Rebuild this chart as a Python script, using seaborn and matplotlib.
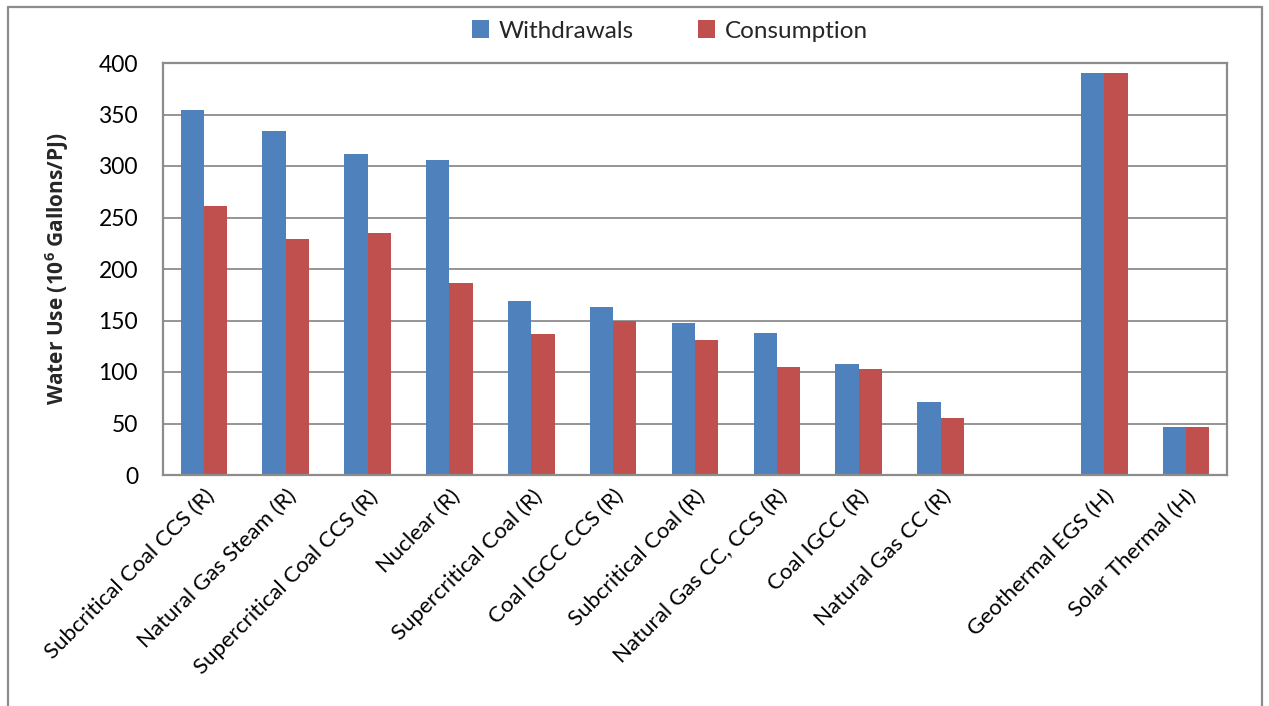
import matplotlib
matplotlib.use("Agg")
import matplotlib.pyplot as plt
from matplotlib.lines import Line2D
import numpy as np
import pandas as pd
import seaborn as sns

# Technology categories (one blank slot separates the two groups)
categories = [
    "Subcritical Coal CCS (R)",
    "Natural Gas Steam (R)",
    "Supercritical Coal CCS (R)",
    "Nuclear (R)",
    "Supercritical Coal (R)",
    "Coal IGCC CCS (R)",
    "Subcritical Coal (R)",
    "Natural Gas CC, CCS (R)",
    "Coal IGCC (R)",
    "Natural Gas CC (R)",
    " ",
    "Geothermal EGS (H)",
    "Solar Thermal (H)",
]
withdrawals = [354, 334, 312, 306, 169, 163, 148, 138, 108, 71, np.nan, 390, 47]
consumption = [261, 229, 235, 186, 137, 150, 131, 105, 103, 55, np.nan, 390, 47]
series = ["Withdrawals", "Consumption"]
colors = ["#4F81BD", "#C0504D"]
y_ticks = [0, 50, 100, 150, 200, 250, 300, 350, 400]

df = pd.DataFrame({
    "Technology": categories * 2,
    "Series": [series[0]] * len(categories) + [series[1]] * len(categories),
    "Value": withdrawals + consumption,
})

sns.set_theme(style="white")
plt.rcParams["font.family"] = ["Lato", "DejaVu Sans"]
plt.rcParams["mathtext.fontset"] = "custom"
plt.rcParams["mathtext.bf"] = "Open Sans:bold"
plt.rcParams["mathtext.rm"] = "Open Sans"

fig = plt.figure(figsize=(12.69, 7.06), dpi=100)
ax = fig.add_axes([163 / 1269, 1 - 475 / 706, (1227 - 163) / 1269, (475 - 63) / 706])

sns.barplot(
    data=df, x="Technology", y="Value", hue="Series",
    order=categories, hue_order=series, palette=colors,
    width=0.57, gap=0, saturation=1, errorbar=None, ax=ax,
    edgecolor="none", linewidth=0,
)

ax.set_ylim(0, 400)
ax.set_yticks(y_ticks)
ax.set_xlim(-0.5, len(categories) - 0.5)
ax.yaxis.grid(True, color="#8C8C8C", linewidth=1.3)
ax.set_axisbelow(True)
for s in ax.spines.values():
    s.set_color("#8C8C8C")
    s.set_linewidth(1.6)

ax.tick_params(axis="y", length=0, labelsize=16.5, pad=18, colors="black")
ax.tick_params(axis="x", length=0, labelsize=16, pad=8, colors="black")
plt.setp(ax.get_xticklabels(), rotation=45, ha="right", rotation_mode="anchor")

ax.set_xlabel("")
ax.set_ylabel(r"Water Use ($\mathbf{10^{6}}$ Gallons/PJ)", fontsize=15,
              fontweight="bold", family=["Open Sans", "DejaVu Sans"], labelpad=20)

ax.legend(
    loc="center", bbox_to_anchor=(670 / 1269, 1 - 31 / 706),
    bbox_transform=fig.transFigure, ncol=2, frameon=False,
    fontsize=17.5, handlelength=0.7, handleheight=0.7,
    handletextpad=0.4, columnspacing=2.65,
)

# Outer chart border
border = dict(color="#8C8C8C", linewidth=1.6, transform=fig.transFigure)
x0, x1, ytop = 8 / 1269, 1262 / 1269, 1 - 7 / 706
fig.add_artist(Line2D([x0, x1], [ytop, ytop], **border))
fig.add_artist(Line2D([x0, x0], [0, ytop], **border))
fig.add_artist(Line2D([x1, x1], [0, ytop], **border))

fig.savefig("out.png", dpi=100)
